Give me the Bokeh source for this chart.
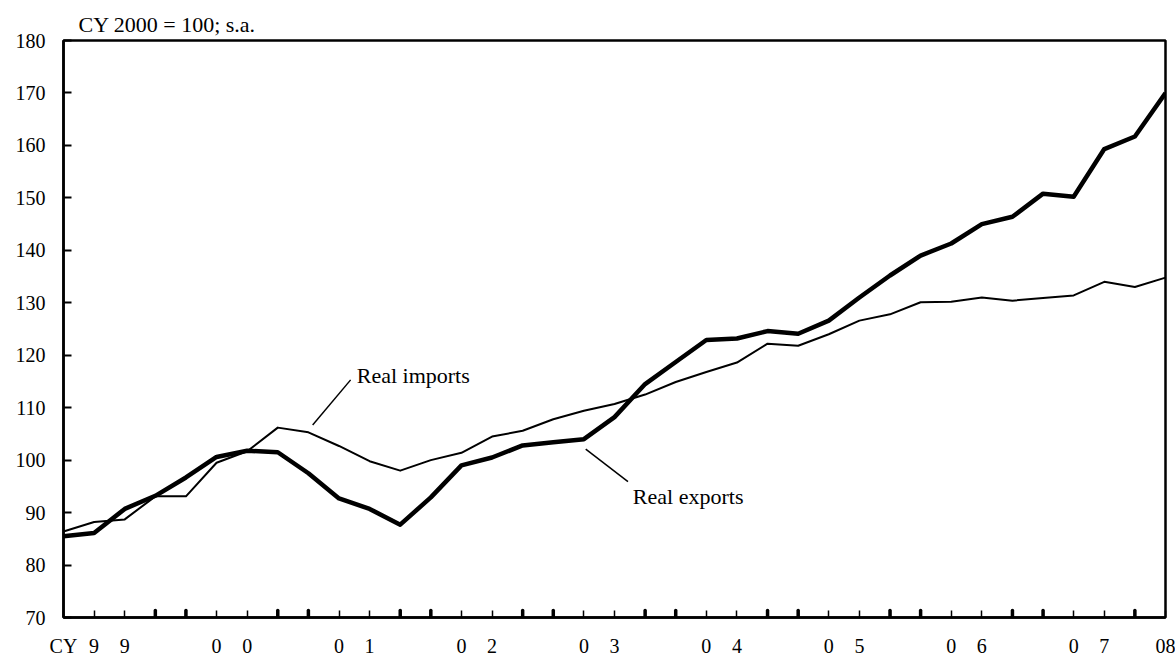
import math
from bokeh.plotting import figure
from bokeh.models import Range1d, FixedTicker, Label, ColumnDataSource, Title
from bokeh.embed import file_html
from bokeh.resources import INLINE

# ---- data (quarterly, 1999Q1 .. 2008Q1), CY 2000 = 100, s.a. ----
quarter_index = list(range(37))
real_exports = [85.5, 86.1, 90.7, 93.2, 96.7, 100.6, 101.8, 101.5, 97.5, 92.7, 90.7, 87.7,
                92.9, 99.0, 100.5, 102.8, 103.4, 104.0, 108.2, 114.5, 118.7, 122.9, 123.2, 124.6,
                124.1, 126.6, 131.0, 135.2, 139.0, 141.3, 145.0, 146.4, 150.8, 150.2, 159.3, 161.7,
                170.0]
real_imports = [86.4, 88.2, 88.7, 93.1, 93.1, 99.5, 101.7, 106.2, 105.3, 102.7, 99.8, 98.0,
                100.0, 101.4, 104.5, 105.6, 107.8, 109.4, 110.7, 112.5, 114.9, 116.8, 118.6, 122.2,
                121.8, 124.0, 126.6, 127.8, 130.1, 130.2, 131.0, 130.4, 130.9, 131.4, 134.0, 133.0,
                134.8]
year_labels = ["99", "00", "01", "02", "03", "04", "05", "06", "07"]
first_label = "CY"
last_label = "08"
y_ticks = [70, 80, 90, 100, 110, 120, 130, 140, 150, 160, 170, 180]

FONT = "Liberation Serif"

p = figure(width=1175, height=659, output_backend="svg", toolbar_location=None,
           x_range=Range1d(0, 36), y_range=Range1d(70, 180),
           min_border_left=63, min_border_right=10, min_border_top=40, min_border_bottom=41)
p.background_fill_color = "white"
p.border_fill_color = "white"
p.outline_line_color = "black"
p.outline_line_width = 2.5
p.xgrid.visible = False
p.ygrid.visible = False

# unit note above the frame
p.title = Title(text="CY 2000 = 100; s.a.", align="left", offset=15, standoff=8,
                text_font=FONT, text_font_size="22px", text_font_style="normal",
                text_color="black")

# y axis
p.yaxis.ticker = FixedTicker(ticks=y_ticks)
p.yaxis.major_tick_in = 8
p.yaxis.major_tick_out = 0
p.yaxis.minor_tick_line_color = None
p.yaxis.axis_line_width = 2.5
p.yaxis.major_tick_line_width = 2
p.yaxis.major_label_standoff = 18
p.yaxis.major_label_text_font = FONT
p.yaxis.major_label_text_font_size = "20px"
p.yaxis.major_label_text_color = "black"

# x axis: quarterly ticks, year digits spread over 2nd and 3rd quarter
overrides = {}
for i in quarter_index:
    overrides[i] = ""
for k, yl in enumerate(year_labels):
    overrides[4 * k + 1] = yl[0]
    overrides[4 * k + 2] = yl[1]
overrides[quarter_index[0]] = first_label
overrides[quarter_index[-1]] = last_label
p.xaxis.ticker = FixedTicker(ticks=quarter_index)
p.xaxis.major_label_overrides = overrides
p.xaxis.major_tick_in = 7
p.xaxis.major_tick_out = 0
p.xaxis.minor_tick_line_color = None
p.xaxis.axis_line_width = 2.5
p.xaxis.major_tick_line_width = 1.5
p.xaxis.major_label_standoff = 17
p.xaxis.major_label_text_font = FONT
p.xaxis.major_label_text_font_size = "20px"
p.xaxis.major_label_text_color = "black"

# bold year-boundary ticks
bold_ticks = [q for q in quarter_index[1:-1] if q % 4 in (0, 3)]
p.ray(x=bold_ticks, y=[y_ticks[0]] * len(bold_ticks), length=7, angle=math.pi / 2,
      length_units="screen", line_width=3.5, line_color="black", line_cap="round")

src = ColumnDataSource(dict(q=quarter_index, ex=real_exports, im=real_imports))
p.line("q", "im", source=src, line_width=2, line_color="black", line_join="round")
p.line("q", "ex", source=src, line_width=4.5, line_color="black", line_join="round")

# annotations
imp_label_pos = (9.58, 116.1)
imp_leader = ([9.38], [115.3], [8.14], [106.7])
exp_label_pos = (18.6, 93.0)
exp_leader = ([17.06], [102.1], [18.44], [95.9])

p.segment(x0=imp_leader[0], y0=imp_leader[1], x1=imp_leader[2], y1=imp_leader[3],
          line_width=1.5, line_color="black")
p.segment(x0=exp_leader[0], y0=exp_leader[1], x1=exp_leader[2], y1=exp_leader[3],
          line_width=1.5, line_color="black")

p.add_layout(Label(x=imp_label_pos[0], y=imp_label_pos[1], text="Real imports",
                   text_font=FONT, text_font_size="22px", text_baseline="middle",
                   text_align="left", text_color="black"))
p.add_layout(Label(x=exp_label_pos[0], y=exp_label_pos[1], text="Real exports",
                   text_font=FONT, text_font_size="22px", text_baseline="middle",
                   text_align="left", text_color="black"))

open("out.html", "w").write(file_html(p, INLINE))
